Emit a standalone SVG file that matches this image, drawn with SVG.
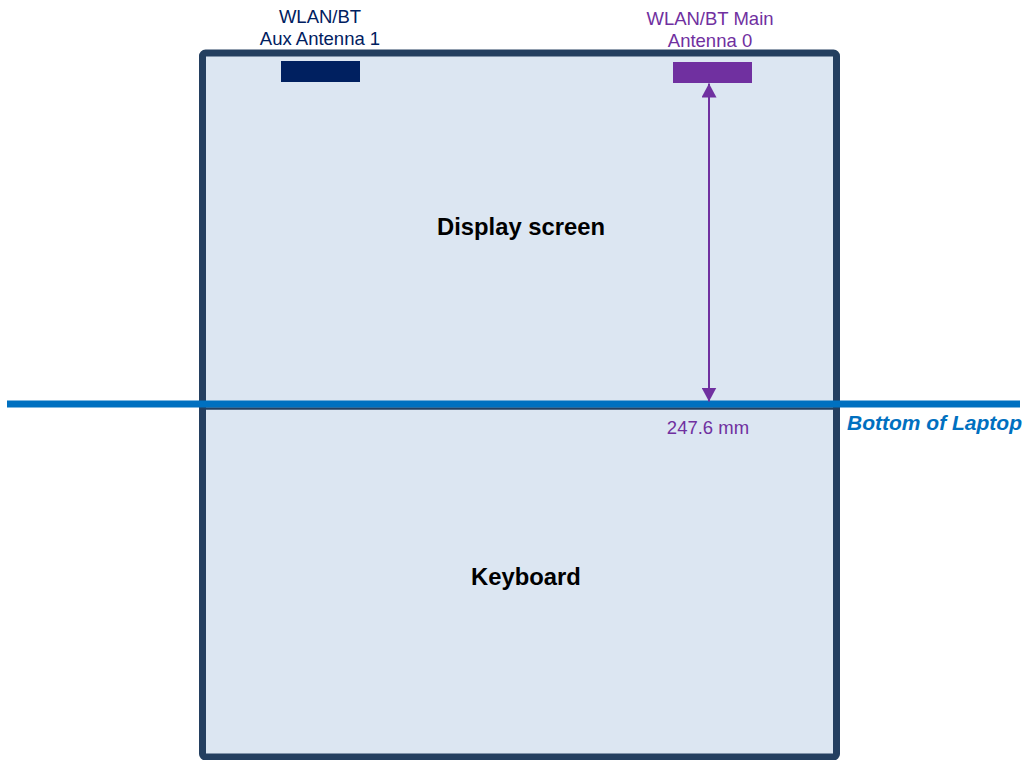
<svg xmlns="http://www.w3.org/2000/svg" width="1028" height="760" viewBox="0 0 1028 760">
<defs>
<style>
.t{font-family:"Liberation Sans",Arial,sans-serif;}
.navy{fill:#002060;font-size:18.5px;}
.purp{fill:#7030A0;font-size:18.5px;}
.big{fill:#000;font-size:23.8px;font-weight:bold;}
</style>
<marker id="ah" viewBox="0 0 14 15" refX="14" refY="7.5" markerWidth="14" markerHeight="15" orient="auto-start-reverse" markerUnits="userSpaceOnUse">
<path d="M0,0 L14,7.5 L0,15 z" fill="#7030A0"/>
</marker>
</defs>
<rect width="1028" height="760" fill="#fff"/>
<g id="laptop">
<rect x="202.5" y="53" width="634" height="704" rx="3" fill="#DCE6F2" stroke="#243F60" stroke-width="7"/>
<line x1="206" y1="408.5" x2="833" y2="408.5" stroke="#243F60" stroke-width="2.5"/>
</g>
<g id="display"><text class="t big" x="521" y="235" text-anchor="middle">Display screen</text></g>
<g id="keyboard"><text class="t big" x="526" y="585" text-anchor="middle">Keyboard</text></g>
<g id="aux-antenna">
<rect x="281" y="61" width="79" height="21" fill="#002060"/>
<text class="t navy" x="320" y="23" text-anchor="middle">WLAN/BT</text>
<text class="t navy" x="320" y="45" text-anchor="middle">Aux Antenna 1</text>
</g>
<g id="main-antenna">
<rect x="673" y="62" width="79" height="21" fill="#7030A0"/>
<text class="t purp" x="710" y="25" text-anchor="middle">WLAN/BT Main</text>
<text class="t purp" x="710" y="47" text-anchor="middle">Antenna 0</text>
</g>
<g id="bottom-line">
<line x1="7" y1="404" x2="1020" y2="404" stroke="#0070C0" stroke-width="7"/>
<text class="t" x="1022" y="430" text-anchor="end" font-size="21" font-weight="bold" font-style="italic" fill="#0070C0">Bottom of Laptop</text>
</g>
<g id="connectors">
<line x1="709" y1="83.5" x2="709" y2="401.5" stroke="#7030A0" stroke-width="2" marker-start="url(#ah)" marker-end="url(#ah)"/>
<text class="t purp" x="708" y="434" text-anchor="middle">247.6 mm</text>
</g>
</svg>
